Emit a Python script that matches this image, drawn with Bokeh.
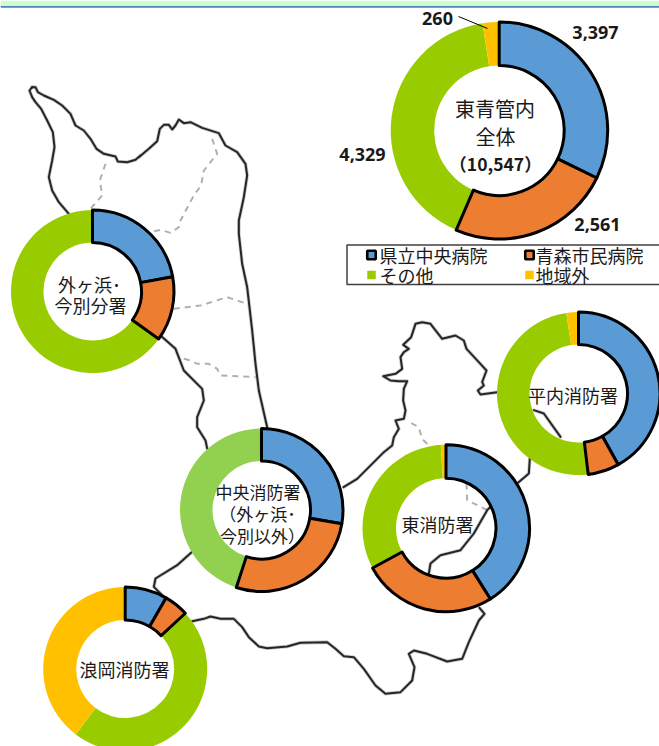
import math
from bokeh.plotting import figure
from bokeh.models import Range1d
from bokeh.core.properties import value
from bokeh.embed import file_html
from bokeh.resources import INLINE

JP = "Noto Sans CJK JP"
NUM = "Noto Sans"
BLUE, ORANGE, GREEN, LIME, YELLOW = "#5B9BD5", "#ED7D31", "#99CC00", "#92D050", "#FFC000"

categories = ["県立中央病院", "青森市民病院", "その他", "地域外"]
total_values = [3397, 2561, 4329, 260]
sotogahama_values = [22.1, 12.8, 65.1, 0.0]
chuo_values = [27.7, 27.3, 44.7, 0.3]
higashi_values = [41.1, 26.0, 31.9, 1.0]
hiranai_values = [41.9, 6.2, 49.5, 2.4]
namioka_values = [8.3, 4.8, 47.2, 39.7]

# centre x, centre y, inner r, outer r, values, colour of the "other" slice
donuts = [
    (498.7, 130, 65, 108.5, total_values, GREEN),
    (92, 291, 49, 81.5, sotogahama_values, GREEN),
    (261, 509.5, 49, 81.5, chuo_values, LIME),
    (445.5, 527.7, 50, 83.5, higashi_values, GREEN),
    (578, 393, 49, 81.5, hiranai_values, GREEN),
    (124.7, 668.5, 49, 82, namioka_values, GREEN),
]

# Map outline: each run is one or more (ox, oy, points-at-3x) parts
coast = [
    [(20, 80, [(35,20),(27,30),(35,50),(45,65),(62,85),(80,120),(97,155),(102,200),(95,240),(85,290),(95,330),(115,365),(145,400)])],
    [(20, 80, [(35,20),(45,20),(52,35),(70,45),(100,58),(125,75),(150,100),(165,135),(190,150),(210,175),(228,205),(250,220),(285,228),(292,243),(320,245),(345,238),(360,225)]),
     (130, 110, [(25,140),(55,115),(80,92),(88,55),(100,43),(115,43),(125,57),(135,45),(145,27),(160,38),(180,35),(215,52),(265,68),(285,105),(320,125),(345,160),(350,195),(340,260),(325,330)]),
     (0, 0, [(715,700),(725,790),(740,860)]),
     (150, 330, [(305,0),(315,100),(325,180),(350,290)])],
    [(150, 330, [(30,15),(75,55),(100,120),(155,175),(160,210),(140,260),(140,290),(165,330)]),
     (0, 373, [(620,225)])],
    [(0, 373, [(575,535),(530,575),(465,615),(460,640),(490,670)])],
    [(180, 590, [(35,92),(70,85),(90,78),(120,85),(160,85),(185,110),(205,140),(235,168),(260,173),(320,168),(360,157),(440,155),(465,175),(490,197)]),
     (340, 590, [(40,200),(70,235),(105,285),(135,310),(180,305),(215,270),(222,230),(205,190),(220,180),(260,190),(320,213),(365,205),(385,155),(415,90),(432,70),(417,52)])],
    [(330, 373, [(295,600),(300,570),(330,545),(390,530),(430,480),(470,410),(490,390)])],
    [(330, 373, [(560,330),(595,300),(598,255)])],
    [(330, 373, [(690,190),(640,120),(610,110)])],
    [(340, 310, [(9,530),(50,505),(95,460),(130,425),(155,405),(160,380),(175,355),(165,330),(190,325),(195,300),(188,270),(190,235),(200,212),(175,212),(150,210),(128,197),(165,190),(185,175),(180,140),(190,125),(205,115),(188,103),(212,80),(225,40),(245,35),(270,40),(305,85),(345,75),(370,90),(378,115),(415,155),(438,180),(425,215),(430,225),(412,240),(420,252),(470,245)])],
]
borders = [
    [(20, 80, [(255,250),(238,300),(245,345),(210,385)])],
    [(130, 110, [(245,85),(260,130),(220,180),(212,225),(190,255),(150,330)]),
     (0, 0, [(535,680),(510,697),(480,688),(450,695)])],
    [(0, 0, [(520,925),(600,915),(680,890),(740,910)])],
    [(150, 330, [(100,85),(120,90),(140,100),(175,100),(200,115),(210,135),(315,140)])],
    [(340, 310, [(212,338),(235,350),(245,385),(265,405)])],
    [(330, 373, [(408,330),(410,380),(470,410)])],
]

p = figure(width=659, height=746, x_range=Range1d(0, 659), y_range=Range1d(746, 0),
           output_backend="svg", toolbar_location=None, min_border=0,
           x_axis_type=None, y_axis_type=None, outline_line_color=None,
           background_fill_color="white",
           styles={"position": "absolute", "left": "0px", "top": "0px"})
p.grid.visible = False

# top banner
p.quad(left=[0], right=[659], top=[0], bottom=[5.5], fill_color="#CCFFCC", line_color=None)
p.quad(left=[0], right=[659], top=[5.5], bottom=[7.2], fill_color="#4F81BD", line_color=None)

def trace(runs):
    xs, ys = [], []
    for run in runs:
        xr, yr = [], []
        for ox, oy, pts in run:
            xr += [ox + a / 3 for a, _ in pts]
            yr += [oy + b / 3 for _, b in pts]
        xs.append(xr)
        ys.append(yr)
    return xs, ys

xs, ys = trace(borders)
p.multi_line(xs, ys, line_color="#B0B0B0", line_width=2, line_dash="6 5")
xs, ys = trace(coast)
p.multi_line(xs, ys, line_color="#303030", line_alpha=0.25, line_width=3.6, line_join="round", line_cap="round")
p.multi_line(xs, ys, line_color="#262626", line_width=2, line_join="round", line_cap="round")

# donuts
for cx, cy, r0, r1, vals, other in donuts:
    total = sum(vals)
    angs = [0.0]
    for v in vals:
        angs.append(angs[-1] + 2 * math.pi * v / total)
    start = [math.pi / 2 - a for a in angs[:-1]]
    end = [math.pi / 2 - a for a in angs[1:]]
    cols = [BLUE, ORANGE, other, YELLOW]
    for i in (2, 3, 0, 1):
        if vals[i] <= 0:
            continue
        outlined = i < 2
        p.annular_wedge(x=[cx], y=[cy], inner_radius=r0, outer_radius=r1,
                        start_angle=[start[i]], end_angle=[end[i]], direction="clock",
                        fill_color=cols[i],
                        line_color="black" if outlined else None,
                        line_width=3 if outlined else 0, line_join="round")

# leader for the smallest slice
p.segment(x0=[458], y0=[16], x1=[487], y1=[28], line_color="black", line_width=1)

def put(xs_, ys_, txt, size, font=JP, style="normal", align="center", color="#1a1a1a"):
    p.text(x=xs_, y=ys_, text=txt, text_font=value(font), text_font_size=size,
           text_font_style=style, text_align=align, text_baseline="middle", text_color=color)

# value labels
val_labels = [f"{v:,}" for v in total_values]
put([595, 597, 362, 437], [32, 224, 154, 18], val_labels, "18px", NUM, "bold")

# centre labels
put([494.5, 495], [108, 136], ["東青管内", "全体"], "20px")
put([495], [163], ["（10,547）"], "17.5px", JP, "bold")
put([89, 90], [283, 304], ["外ヶ浜･", "今別分署"], "18px")
put([257.5, 257, 262], [491, 513, 535], ["中央消防署", "（外ヶ浜･", "今別以外）"], "17px")
put([124], [668], ["浪岡消防署"], "18px")
put([437], [523], ["東消防署"], "18px")
put([572.5], [394], ["平内消防署"], "18px")

# legend
p.quad(left=[346.5], right=[668], top=[244.5], bottom=[284], fill_color="white",
       line_color="#404040", line_width=1.5)
leg_x = [371, 529, 371, 529]
leg_y = [254.5, 254.5, 274.5, 274.5]
leg_col = [BLUE, ORANGE, GREEN, YELLOW]
leg_line = ["black", "black", None, None]
for x_, y_, c_, l_ in zip(leg_x, leg_y, leg_col, leg_line):
    p.scatter(x=[x_], y=[y_], marker="square", size=8.5, fill_color=c_,
              line_color=l_, line_width=2.6 if l_ else 0)
put([379, 535, 379, 535], leg_y, categories, "18px", JP, "normal", "left")

html = file_html(p, INLINE)
open("out.html", "w").write(html)
